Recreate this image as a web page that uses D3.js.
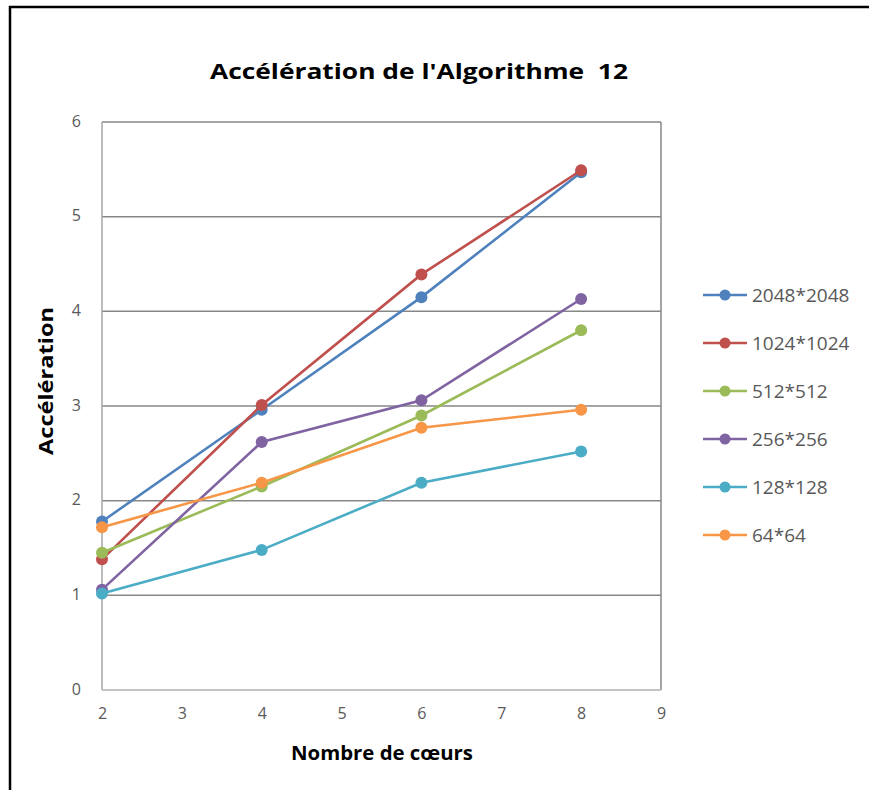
<!DOCTYPE html>
<html>
<head>
<meta charset="utf-8">
<script src="https://cdn.jsdelivr.net/npm/d3@7/dist/d3.min.js"></script>
<style>
  body { margin: 0; background: #fff; }
  text { font-family: "Open Sans", "Noto Sans", sans-serif; }
</style>
</head>
<body>
<div id="chart"></div>
<script>
const width = 869;
const height = 790;

const cores = [2, 4, 6, 8];
const seriesNames = ["2048*2048", "1024*1024", "512*512", "256*256", "128*128", "64*64"];
const seriesColors = ["#4F81BD", "#C0504D", "#9BBB59", "#8064A2", "#4BACC6", "#F79646"];
const s2048 = [1.78, 2.96, 4.15, 5.47];
const s1024 = [1.38, 3.01, 4.39, 5.49];
const s512 = [1.45, 2.15, 2.90, 3.80];
const s256 = [1.06, 2.62, 3.06, 4.13];
const s128 = [1.02, 1.48, 2.19, 2.52];
const s64 = [1.72, 2.19, 2.77, 2.96];
const xTicks = [2, 3, 4, 5, 6, 7, 8, 9];
const yTicks = [0, 1, 2, 3, 4, 5, 6];

const allSeries = [s2048, s1024, s512, s256, s128, s64];

const margin = { left: 102, top: 122, right: 661, bottom: 690 };

const svg = d3.select("#chart").append("svg")
    .attr("width", width)
    .attr("height", height)
    .style("display", "block");

// outer frame (only top and left are visible in the picture)
svg.append("line").attr("x1", 9).attr("y1", 7).attr("x2", width).attr("y2", 7)
    .attr("stroke", "#000").attr("stroke-width", 2.5);
svg.append("line").attr("x1", 10).attr("y1", 6).attr("x2", 10).attr("y2", height)
    .attr("stroke", "#000").attr("stroke-width", 2.5);

const x = d3.scaleLinear().domain([2, 9]).range([margin.left, margin.right]);
const y = d3.scaleLinear().domain([0, 6]).range([margin.bottom, margin.top]);

// gridlines
svg.append("g")
    .selectAll("line")
    .data(yTicks.filter(d => d > 0))
    .enter().append("line")
    .attr("x1", margin.left).attr("x2", margin.right)
    .attr("y1", d => y(d)).attr("y2", d => y(d))
    .attr("stroke", "#878787").attr("stroke-width", 1.5);

// plot frame
svg.append("line")
    .attr("x1", margin.left).attr("x2", margin.left)
    .attr("y1", margin.top).attr("y2", margin.bottom)
    .attr("stroke", "#A6A6A6").attr("stroke-width", 1.5);
svg.append("line")
    .attr("x1", margin.right).attr("x2", margin.right)
    .attr("y1", margin.top).attr("y2", margin.bottom)
    .attr("stroke", "#878787").attr("stroke-width", 1.5);
svg.append("line")
    .attr("x1", margin.left).attr("x2", margin.right)
    .attr("y1", margin.bottom).attr("y2", margin.bottom)
    .attr("stroke", "#B0B0B0").attr("stroke-width", 1.5);

// tick labels
const xAxis = d3.axisBottom(x).tickValues(xTicks).tickFormat(d3.format("d"))
    .tickSize(0).tickPadding(18);
const gx = svg.append("g").attr("transform", `translate(0,${margin.bottom})`).call(xAxis);
gx.select(".domain").remove();
gx.selectAll("text").attr("fill", "#595959").style("font-size", "16px")
    .style("font-family", "'Open Sans', sans-serif");

const yAxis = d3.axisLeft(y).tickValues(yTicks).tickFormat(d3.format("d"))
    .tickSize(0).tickPadding(21);
const gy = svg.append("g").attr("transform", `translate(${margin.left},0)`).call(yAxis);
gy.select(".domain").remove();
gy.selectAll("text").attr("fill", "#595959").style("font-size", "16px")
    .style("font-family", "'Open Sans', sans-serif")
    .attr("dy", "0.25em");

// lines and markers
const line = d3.line().x((d, i) => x(cores[i])).y(d => y(d));

const series = svg.append("g").selectAll("g")
    .data(allSeries)
    .enter().append("g");

series.append("path")
    .attr("d", d => line(d))
    .attr("fill", "none")
    .attr("stroke", (d, i) => seriesColors[i])
    .attr("stroke-width", 2.6);

series.each(function(d, i) {
    d3.select(this).selectAll("circle")
        .data(d)
        .enter().append("circle")
        .attr("cx", (v, j) => x(cores[j]))
        .attr("cy", v => y(v))
        .attr("r", 6)
        .attr("fill", seriesColors[i]);
});

// title
svg.append("text")
    .attr("x", 419).attr("y", 79)
    .attr("text-anchor", "middle")
    .attr("textLength", 418).attr("lengthAdjust", "spacingAndGlyphs")
    .style("font-size", "22px").style("font-weight", "bold")
    .style("white-space", "pre")
    .attr("fill", "#000")
    .text("Accélération de l'Algorithme  12");

// axis titles
svg.append("text")
    .attr("x", 382).attr("y", 760)
    .attr("text-anchor", "middle")
    .attr("textLength", 182).attr("lengthAdjust", "spacingAndGlyphs")
    .style("font-size", "19px").style("font-weight", "bold")
    .text("Nombre de cœurs");

svg.append("text")
    .attr("transform", "translate(53,381) rotate(-90)")
    .attr("text-anchor", "middle")
    .attr("textLength", 148).attr("lengthAdjust", "spacingAndGlyphs")
    .style("font-size", "19px").style("font-weight", "bold")
    .text("Accélération");

// legend
const legend = svg.append("g").selectAll("g")
    .data(seriesNames)
    .enter().append("g")
    .attr("transform", (d, i) => `translate(703,${295 + i * 48})`);

legend.append("line")
    .attr("x1", 0).attr("x2", 44)
    .attr("stroke", (d, i) => seriesColors[i])
    .attr("stroke-width", 2.6);
legend.append("circle")
    .attr("cx", 22).attr("r", 5.5)
    .attr("fill", (d, i) => seriesColors[i]);
legend.append("text")
    .attr("x", 49).attr("dy", "0.36em")
    .attr("fill", "#595959")
    .style("font-size", "19px")
    .text(d => d);
</script>
</body>
</html>
